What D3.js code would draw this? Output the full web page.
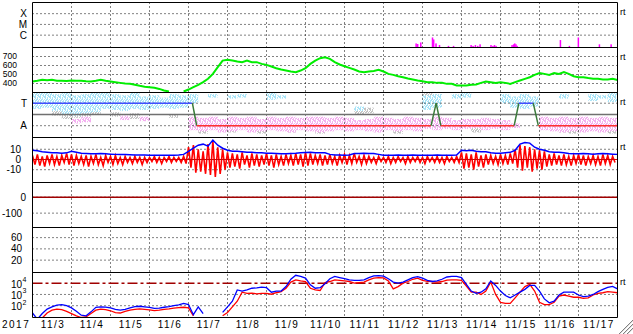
<!DOCTYPE html>
<html>
<head>
<title>Space weather 2017/11/3 - 11/17</title>
<style>
  body { margin: 0; background: #fff; }
  svg { display: block; }
  text { font-family: "Liberation Sans", Arial, sans-serif; font-size: 10px; fill: #000; }
  .dot { stroke: #000; stroke-width: 1; stroke-dasharray: 1,3; fill: none; }
  .frame { stroke: #000; stroke-width: 1; fill: none; }
</style>
<script src="https://d3js.org/d3.v7.min.js"></script>
</head>
<body>
<svg width="633" height="334"></svg>
<script>
// time axis: days since 2017-11-03 00:00, 3-hour samples
var step = 0.125;
var yearLabel = "2017";
var dayLabels = ["11/3","11/4","11/5","11/6","11/7","11/8","11/9","11/10","11/11","11/12","11/13","11/14","11/15","11/16","11/17"];

// x-ray events (day, flux W/m2)
var xrayT = [9.83,9.87,9.95,10.25,10.28,10.34,10.43,10.66,10.79,11.24,11.29,11.35,11.41,11.47,11.75,11.80,11.84,11.88,12.29,12.33,12.36,12.39,12.42,13.53,13.76,13.99,14.53,14.83];
var xrayFlux = [1.7e-7,1.5e-7,2.1e-7,6.1e-7,4.0e-7,1.7e-7,1.2e-7,1.0e-7,1.0e-7,1.2e-7,1.0e-7,1.2e-7,1.0e-7,1.4e-7,1.2e-7,1.0e-7,1.2e-7,1.0e-7,1.2e-7,1.4e-7,1.7e-7,1.4e-7,1.0e-7,3.5e-7,1.0e-7,6.1e-7,1.4e-7,1.4e-7];
var xrayTicks = ["X","M","C"];

// solar wind speed km/s
var speed = [422,430,441,435,441,430,430,428,
  433,430,430,425,422,430,441,430,
  422,415,407,400,396,385,374,365,
  359,352,340,322,311,null,null,311,
  333,359,385,415,452,507,581,655,
  665,655,644,637,655,637,637,618,
  607,589,570,555,544,533,526,544,
  570,618,655,681,692,674,637,611,
  592,574,555,533,526,533,540,552,
  533,507,496,481,470,455,444,433,
  426,415,415,407,407,396,396,378,
  378,378,385,389,407,422,415,407,
  415,407,396,415,433,452,470,496,
  515,507,496,515,507,526,507,481,
  470,470,460,452,452,444,444,452,
  440];
var speedTicks = [700,600,500,400];

// IMF sector (T / A), 6-hour bins of scatter, level 3 = T, 1 = A
var cyanLo = [2.5,2.6,2.3,2.0,1.9,2.1,2.2,2.5,2.4,2.3,2.5,2.4,2.5,2.6,2.5,2.6,
  3.0,null,3.5,null,3.4,3.5,null,null,3.3,3.4,null,null,null,null,null,null,
  null,2.3,null,null,null,null,null,null,2.4,2.6,null,3.4,3.5,null,null,null,
  3.0,2.6,2.5,2.7,null,null,3.4,null,null,3.2,3.4,3.1];
var cyanHi = [3.9,3.9,3.8,3.9,3.7,3.8,3.9,3.9,3.8,3.7,3.9,3.6,3.7,3.5,3.8,3.7,
  3.8,null,3.8,null,3.7,3.8,null,null,3.9,3.7,null,null,null,null,null,null,
  null,2.7,null,null,null,null,null,null,3.7,3.8,null,3.8,3.9,null,null,null,
  3.8,3.6,3.8,3.6,null,null,3.8,null,null,3.8,3.7,3.9];
var pinkLo = [null,null,null,null,1.2,1.3,null,null,null,1.5,null,1.4,null,null,null,null,
  0.6,0.5,0.6,0.4,0.5,0.6,0.4,0.5,0.6,0.5,0.4,0.6,0.5,0.4,0.5,0.6,
  0.5,0.6,0.5,0.4,0.6,0.5,0.6,0.5,0.7,0.6,0.7,0.6,0.7,0.8,0.6,0.7,
  0.6,0.8,null,null,0.6,0.5,0.4,0.5,0.4,0.5,0.4,0.5];
var pinkHi = [null,null,null,null,1.6,1.8,null,null,null,1.9,null,1.8,null,null,null,null,
  1.8,1.7,1.8,1.6,1.8,1.7,1.8,1.6,1.8,1.7,1.8,1.7,1.8,1.8,1.7,1.8,
  1.7,1.5,1.6,1.8,1.7,1.6,1.8,1.7,1.6,1.8,1.7,1.5,1.6,1.6,1.7,1.6,
  1.5,1.2,null,null,1.8,1.7,1.8,1.7,1.8,1.7,1.8,1.7];
var greyLo = [null,null,1.9,1.6,1.7,1.8,2.0,null,1.8,null,1.6,null,null,null,1.7,null,
  null,0.3,null,null,0.4,null,null,0.3,null,null,0.4,null,null,0.3,null,null,
  null,2.0,2.1,null,null,0.3,null,null,2.8,3.0,null,null,null,0.4,null,null,
  null,null,null,null,null,null,0.4,0.3,0.5,null,null,0.3];
var greyHi = [null,null,2.3,2.2,2.3,2.2,2.4,null,2.2,null,2.1,null,null,null,2.0,null,
  null,0.9,null,null,0.8,null,null,0.7,null,null,0.8,null,null,0.7,null,null,
  null,2.5,2.6,null,null,0.8,null,null,3.9,3.8,null,null,null,0.9,null,null,
  null,null,null,null,null,null,1.0,0.8,0.9,null,null,0.7];
var sectorT = [0,4.10,4.21,10.22,10.35,10.47,12.35,12.47,12.84,12.97,15];
var sectorV = [3,3,1,1,3,1,1,3,3,1,1];

// IMF Bt and Bz (nT); Bz as high/low per 3-hour bin
var bt = [9,8.5,7.5,7,6.5,6.5,6,6.5,
  8,7,6,5.8,5.5,5.5,5.8,5.5,
  5.2,5,4.8,4.8,4.6,4.5,4.4,4.3,
  4.2,4.2,4.2,4.2,4.2,4.2,4.3,5,
  8,11,14,15,13,19,14,11,
  9,8,8,7.5,7,7,6.5,6.5,
  6.2,6,5.8,5.6,5.6,5.8,6,6.5,
  6.8,7,6.5,6.5,6.5,5,4.5,4.3,
  4.2,4.5,5.9,5.9,6,5.8,5.8,5,
  4.2,4.2,4.2,4.4,4.2,4.2,4.4,4.2,
  4.2,4.2,4.2,4.4,4.2,4.2,4.2,4.4,
  9,8.5,9,8,7.5,7.5,6.5,6,
  6,6.5,7,9,15,16.5,16,12,
  10,9,7.5,7,7,6.5,5.8,5.5,
  5.5,5.8,5.5,5.2,5.5,5.8,5.5,5.2,
  5];
var bzHi = [4,5,3,4,5,3,4,6, 5,4,3,4,3,5,2,4, 3,4,2,3,2,3,2,2, 2,3,2,2,3,2,2,3,
  12,14,10,8,15,18,12,10, 7,6,5,7,4,6,5,4, 6,4,5,3,5,4,6,5, 7,6,4,5,4,5,3,4,
  5,4,6,3,4,3,2,3, 2,3,2,3,2,3,2,3, 2,3,2,3,2,3,2,3, 7,6,5,7,4,5,4,3,
  5,4,6,10,14,13,12,10, 9,8,5,6,4,5,3,4, 5,4,3,4,3,5,4,3];
var bzLo = [-5,-6,-7,-4,-5,-6,-3,-5, -6,-4,-5,-7,-4,-5,-6,-3, -5,-4,-5,-3,-4,-3,-5,-3, -2,-3,-4,-2,-3,-2,-3,-4,
  -8,-13,-12,-14,-15,-17,-14,-10, -8,-7,-9,-5,-8,-6,-7,-5, -6,-8,-5,-6,-4,-6,-5,-7, -6,-5,-4,-6,-5,-4,-6,-3,
  -5,-4,-3,-5,-4,-3,-4,-2, -3,-4,-3,-2,-4,-3,-2,-3, -4,-2,-3,-3,-4,-2,-3,-3, -9,-8,-10,-7,-8,-5,-4,-5,
  -4,-5,-4,-8,-11,-8,-12,-9, -10,-7,-6,-5,-6,-5,-6,-4, -5,-6,-4,-5,-6,-4,-5,-3];
var bTicks = [10,0,-10];

var dstTicks = [0,-100];
var p6Ticks = [60,40,20];

// electron flux, log10 values
var eBlue = [1.35,0.8,1.3,1.7,1.9,2.05,2.1,2.0,
  1.8,1.5,1.15,1.1,1.45,1.85,1.9,1.88,
  1.8,1.68,1.6,1.68,1.8,1.92,1.95,1.9,
  1.85,1.76,1.78,1.86,1.92,2.0,2.08,2.2,
  2.1,1.2,1.9,1.3,null,null,null,1.4,
  1.9,2.4,3.4,3.3,3.4,3.55,3.58,3.65,
  3.6,3.2,3.3,3.3,3.7,4.35,4.7,4.6,
  4.45,3.85,3.55,3.6,3.95,4.4,4.6,4.5,
  4.4,4.3,4.25,4.25,4.3,4.5,4.65,4.68,
  4.62,4.4,4.1,4.0,4.1,4.3,4.5,4.58,
  4.45,4.25,4.15,4.2,4.35,4.55,4.6,4.6,
  4.5,3.9,3.3,3.1,3.2,3.5,4.2,3.8,
  3.3,2.9,2.7,2.95,3.2,3.45,3.8,3.8,
  3.3,2.6,2.25,2.4,2.95,3.2,3.2,3.2,
  2.95,2.8,2.85,3.0,3.25,3.45,3.62,3.72,
  3.5];
var eRed = [null,null,0.9,1.35,1.6,1.7,1.65,1.5,
  1.3,1.1,0.95,1.0,1.3,1.6,1.7,1.65,
  1.55,1.38,1.35,1.5,1.6,1.68,1.72,1.68,
  1.62,1.56,1.6,1.68,1.72,1.78,1.82,1.86,
  1.8,1.1,null,1.2,null,null,null,1.1,
  1.4,1.9,2.4,3.2,3.1,3.12,3.05,3.1,
  3.1,3.02,3.15,3.25,3.55,4.1,4.3,4.2,
  4.15,3.55,3.4,3.35,4.05,4.15,4.3,4.25,
  4.2,4.15,4.0,4.05,4.1,4.3,4.45,4.5,
  4.47,4.2,3.5,3.7,4.0,4.15,4.35,4.45,
  4.25,4.17,4.15,4.1,4.15,4.28,4.3,4.3,
  4.25,3.75,3.2,3.2,3.0,3.3,4.1,3.0,
  2.3,2.2,2.2,2.7,3.2,3.7,3.9,3.3,
  2.3,2.1,2.1,2.3,2.85,2.95,2.85,2.75,
  2.75,2.65,2.7,2.95,3.1,3.15,3.25,3.2,
  3.15];
var eTicks = [4,3,2];

var svg = d3.select("svg");
var x0 = 32.5, x1 = 617.5, ph = 45;
var tops = [2.5, 47.5, 92.5, 137.5, 182.5, 227.5, 272.5];
var bottom = tops[6] + ph;

var x = d3.scaleLinear().domain([0, 15]).range([x0, x1]);
var yX = d3.scaleLog().domain([Math.pow(10,-7.15), Math.pow(10,-2.96)]).range([tops[0]+ph, tops[0]]);
var yV = d3.scaleLinear().domain([300, 800]).range([tops[1]+ph, tops[1]]);
var yS = d3.scaleLinear().domain([-0.05, 3.95]).range([tops[2]+ph, tops[2]]);
var yB = d3.scaleLinear().domain([-22.5, 21.5]).range([tops[3]+ph, tops[3]]);
var yD = d3.scaleLinear().domain([-190, 92]).range([tops[4]+ph, tops[4]]);
var y6 = d3.scaleLinear().domain([-2, 78]).range([tops[5]+ph, tops[5]]);
var yE = d3.scaleLog().domain([Math.pow(10,0.95), Math.pow(10,4.95)]).range([tops[6]+ph, tops[6]]);

var defs = svg.append("defs");
tops.forEach(function(t, i) {
  defs.append("clipPath").attr("id", "clip" + i)
    .append("rect").attr("x", x0).attr("y", t).attr("width", x1 - x0).attr("height", ph);
});

function speckle(id, col) {
  var p = defs.append("pattern").attr("id", id).attr("patternUnits", "userSpaceOnUse")
    .attr("width", 5).attr("height", 6);
  [[0,0,1,3],[1,3,1,2],[2,1,1,3],[3,4,1,2],[4,0,1,2],[3,0,1,1],[0,4,1,2],[4,3,1,1],[2,5,1,1]].forEach(function(r) {
    p.append("rect").attr("x", r[0]).attr("y", r[1]).attr("width", r[2]).attr("height", r[3]).attr("fill", col);
  });
}
speckle("pc", "#a8e4f8");
speckle("pp", "#f4b0f0");
speckle("pg", "#c4c4c4");

// sector scatter
var gS = svg.append("g").attr("clip-path", "url(#clip2)");
function cloud(lo, hi, pat) {
  lo.forEach(function(v, i) {
    if (v == null) return;
    gS.append("rect")
      .attr("x", x(i * 0.25)).attr("width", x(0.25) - x(0))
      .attr("y", yS(hi[i])).attr("height", yS(v) - yS(hi[i]))
      .attr("fill", "url(#" + pat + ")");
  });
}
cloud(greyLo, greyHi, "pg");
cloud(pinkLo, pinkHi, "pp");
cloud(cyanLo, cyanHi, "pc");

// grid
var grid = svg.append("g");
d3.range(1, 15).forEach(function(d) {
  grid.append("line").attr("class", "dot").attr("x1", x(d)).attr("x2", x(d)).attr("y1", tops[0]).attr("y2", bottom);
});
function hgrid(ys) {
  ys.forEach(function(y) {
    grid.append("line").attr("class", "dot").attr("x1", x0).attr("x2", x1).attr("y1", y).attr("y2", y);
  });
}
hgrid([1e-4, 1e-5, 1e-6].map(yX));
hgrid(speedTicks.map(yV));
hgrid([3, 1].map(yS));
hgrid(bTicks.map(yB));
hgrid(dstTicks.map(yD));
hgrid(p6Ticks.map(y6));
hgrid([3, 2].map(function(e) { return yE(Math.pow(10, e)); }));

// x-ray
svg.append("g").attr("clip-path", "url(#clip0)").selectAll("rect").data(xrayT).enter().append("rect")
  .attr("x", function(t) { return x(t) - 0.5; })
  .attr("width", 1.5)
  .attr("y", function(t, i) { return yX(xrayFlux[i]); })
  .attr("height", function(t, i) { return tops[0] + ph - yX(xrayFlux[i]); })
  .attr("fill", "#ff00ff");

// speed
var lineV = d3.line().defined(function(d) { return d != null; })
  .x(function(d, i) { return x(i * step); }).y(function(d) { return yV(d); });
svg.append("path").attr("clip-path", "url(#clip1)").attr("d", lineV(speed))
  .attr("fill", "none").attr("stroke", "#00ee00").attr("stroke-width", 2);

// sector line
var gSec = svg.append("g").attr("clip-path", "url(#clip2)");
gSec.append("line").attr("x1", x0).attr("x2", x1).attr("y1", yS(2)).attr("y2", yS(2))
  .attr("stroke", "#707070").attr("stroke-width", 1.5);
for (var k = 0; k < sectorT.length - 1; k++) {
  var a = sectorV[k], b = sectorV[k + 1];
  var col = (a == 3 && b == 3) ? "#4050ff" : (a == 1 && b == 1) ? "#ff3030" : "#3a7a3a";
  gSec.append("line")
    .attr("x1", x(sectorT[k])).attr("y1", yS(a))
    .attr("x2", x(sectorT[k + 1])).attr("y2", yS(b))
    .attr("stroke", col).attr("stroke-width", 1.5);
}

// Bz / Bt
var gB = svg.append("g").attr("clip-path", "url(#clip3)");
var zig = [];
bzHi.forEach(function(h, i) {
  zig.push([i * step, h]);
  zig.push([i * step + step / 2, bzLo[i]]);
});
gB.append("path").attr("d", d3.line().x(function(d) { return x(d[0]); }).y(function(d) { return yB(d[1]); })(zig))
  .attr("fill", "none").attr("stroke", "#ff0000").attr("stroke-width", 1.6);
gB.append("line").attr("x1", x0).attr("x2", x1).attr("y1", yB(0)).attr("y2", yB(0))
  .attr("stroke", "#d00000").attr("stroke-width", 1);
gB.append("path").attr("d", d3.line().x(function(d, i) { return x(i * step); }).y(function(d) { return yB(d); })(bt))
  .attr("fill", "none").attr("stroke", "#0000ff").attr("stroke-width", 1.5);

// panel 5 zero line
svg.append("line").attr("x1", x0).attr("x2", x1).attr("y1", yD(0)).attr("y2", yD(0))
  .attr("stroke", "#a00000").attr("stroke-width", 1.5);

// electron flux
var gE = svg.append("g").attr("clip-path", "url(#clip6)");
gE.append("line").attr("x1", x0).attr("x2", x1).attr("y1", yE(1e4)).attr("y2", yE(1e4))
  .attr("stroke", "#a00000").attr("stroke-width", 1.5).attr("stroke-dasharray", "10,3,3,3");
var lineE = d3.line().defined(function(d) { return d != null; })
  .x(function(d, i) { return x(i * step); }).y(function(d) { return yE(Math.pow(10, d)); });
gE.append("path").attr("d", lineE(eRed)).attr("fill", "none").attr("stroke", "#ff0000").attr("stroke-width", 1.3);
gE.append("path").attr("d", lineE(eBlue)).attr("fill", "none").attr("stroke", "#0000ff").attr("stroke-width", 1.3);

// frames
tops.concat([bottom]).forEach(function(t) {
  svg.append("line").attr("class", "frame").attr("x1", x0).attr("x2", x1).attr("y1", t).attr("y2", t);
});
svg.append("line").attr("class", "frame").attr("x1", x0).attr("x2", x0).attr("y1", tops[0]).attr("y2", bottom);
svg.append("line").attr("class", "frame").attr("x1", x1).attr("x2", x1).attr("y1", tops[0]).attr("y2", bottom);

// left labels
function lab(txt, xr, y, size) {
  var s = size || 10;
  svg.append("text").attr("x", xr).attr("y", y + s * 0.35).attr("text-anchor", "end")
    .style("font-size", s + "px").text(txt);
}
xrayTicks.forEach(function(s, i) { lab(s, 27, yX(Math.pow(10, -4 - i))); });
speedTicks.forEach(function(v) { lab(v, 17, yV(v), 8.5); });
lab("T", 27, yS(3));
lab("A", 27, yS(1));
bTicks.forEach(function(v) { lab(v, 21, yB(v)); });
lab("0", 26, yD(0));
lab("-100", 22, yD(-100));
p6Ticks.forEach(function(v) { lab(v, 22, y6(v)); });
eTicks.forEach(function(e) {
  var y = yE(Math.pow(10, e));
  lab("10", 22, y + 1);
  svg.append("text").attr("x", 22.5).attr("y", y - 1).style("font-size", "7px").text(e);
});

// right "rt" marks
[0, 1, 2, 3, 6].forEach(function(i) {
  svg.append("text").attr("x", 620).attr("y", tops[i] + 12).style("font-size", "9px").text("rt");
});

// date labels
svg.append("text").attr("x", 2).attr("y", 328).style("letter-spacing", "1.5px").text(yearLabel);
dayLabels.forEach(function(s, i) {
  svg.append("text").attr("x", x(i + 0.5) + 1).attr("y", 328).attr("text-anchor", "middle")
    .style("letter-spacing", "1.5px").text(s);
});

// resize grip
[0, 4, 8].forEach(function(o) {
  svg.append("line").attr("x1", 633).attr("y1", 320 + o).attr("x2", 619 + o).attr("y2", 334).attr("stroke", "#808080");
  svg.append("line").attr("x1", 633).attr("y1", 321 + o).attr("x2", 620 + o).attr("y2", 334).attr("stroke", "#e0e0e0");
});
</script>
</body>
</html>
